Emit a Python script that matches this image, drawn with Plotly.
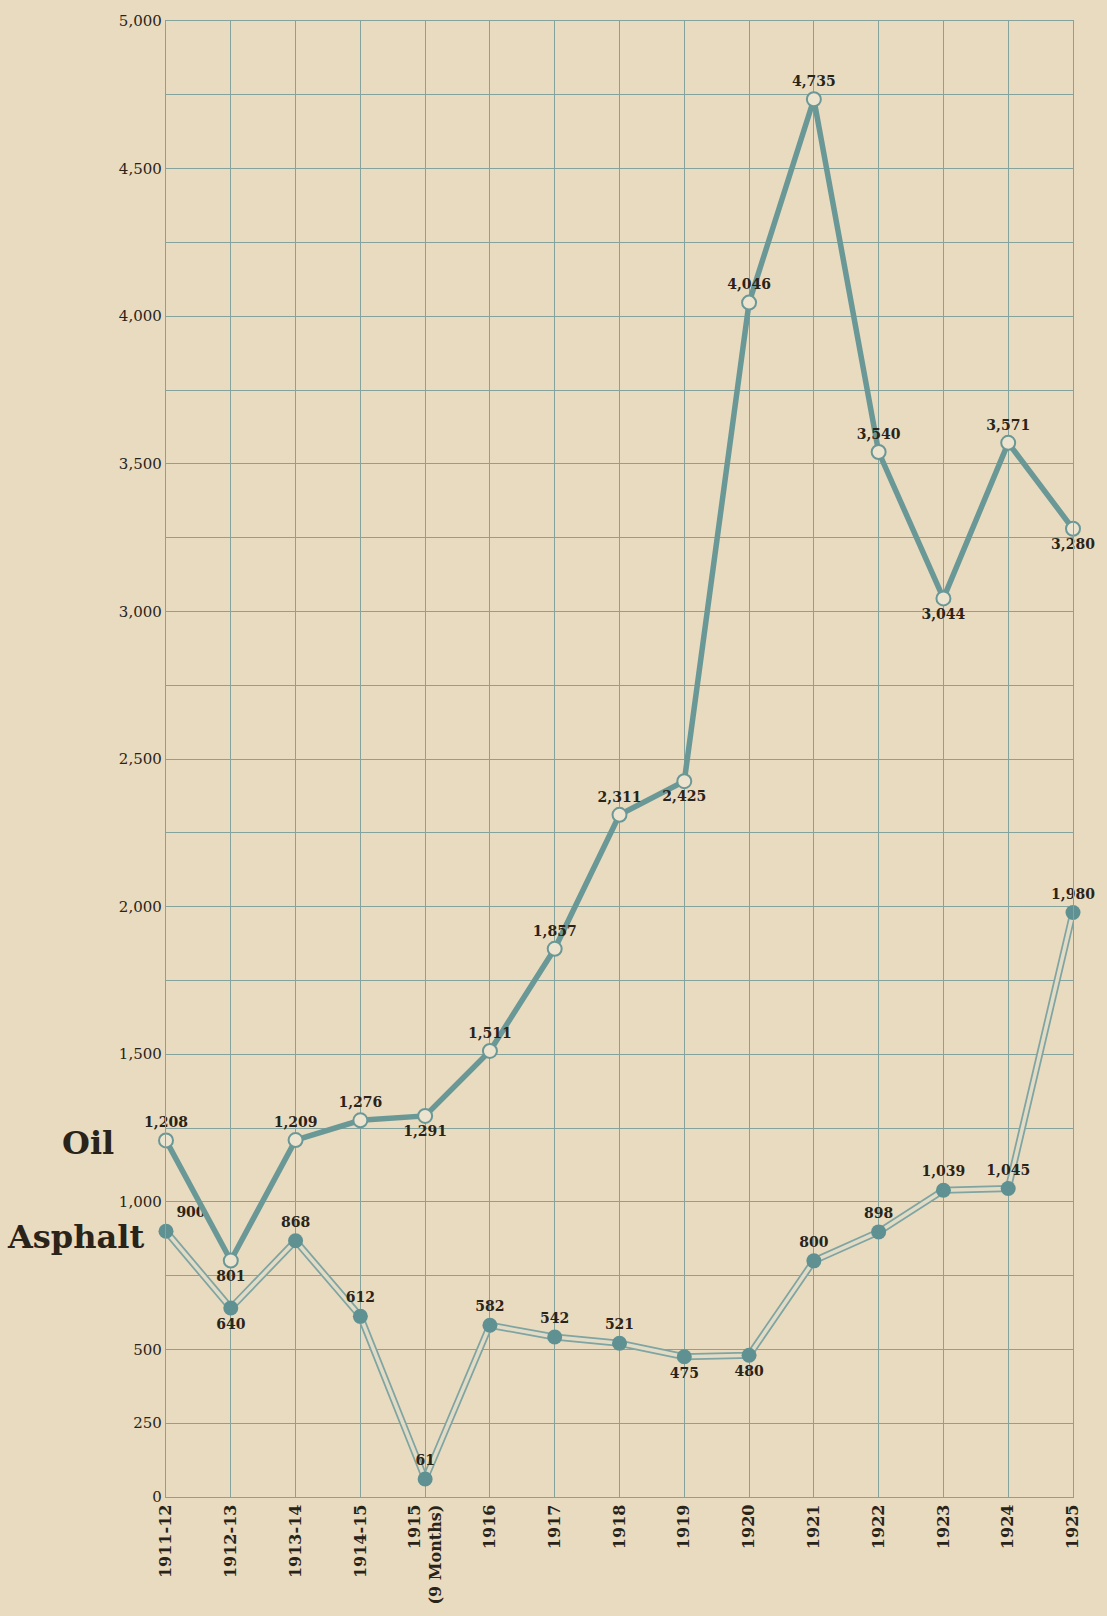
import plotly.graph_objects as go

# ---- data ----
years = ["1911-12", "1912-13", "1913-14", "1914-15", "1915<br>(9 Months)", "1916", "1917",
         "1918", "1919", "1920", "1921", "1922", "1923", "1924", "1925"]
oil_values = [1208, 801, 1209, 1276, 1291, 1511, 1857, 2311, 2425, 4046, 4735, 3540, 3044, 3571, 3280]
asphalt_values = [900, 640, 868, 612, 61, 582, 542, 521, 475, 480, 800, 898, 1039, 1045, 1980]

oil_label_pos = ["top center", "bottom center", "top center", "top center", "bottom center",
                 "top center", "top center", "top center", "bottom center", "top center",
                 "top center", "top center", "bottom center", "top center", "bottom center"]
asphalt_label_pos = ["top right", "bottom center", "top center", "top center", "top center",
                     "top center", "top center", "top center", "bottom center", "bottom center",
                     "top center", "top center", "top center", "top center", "top center"]

y_tick_values = list(range(0, 5001, 250))
y_tick_labels = ["0", "250", "500", "", "1,000", "", "1,500", "", "2,000", "", "2,500", "",
                 "3,000", "", "3,500", "", "4,000", "", "4,500", "", "5,000"]

# ---- style ----
BG = "#e8dbbf"
GRID = "#84a39d"
OIL = "#6a9897"
ASPH_EDGE = "#7fa4a2"
ASPH_INNER = "#e2dcc6"
ASPH_DOT = "#5f9193"
INK = "#2a2319"
FONT = "DejaVu Serif"

fig = go.Figure()

# Asphalt: double line (outer teal, inner light), filled dots
fig.add_trace(go.Scatter(x=years, y=asphalt_values, mode="lines",
                         line=dict(color=ASPH_EDGE, width=7), hoverinfo="skip",
                         cliponaxis=False, showlegend=False))
fig.add_trace(go.Scatter(x=years, y=asphalt_values, mode="lines",
                         line=dict(color=ASPH_INNER, width=3.5), hoverinfo="skip",
                         cliponaxis=False, showlegend=False))
fig.add_trace(go.Scatter(x=years, y=asphalt_values, mode="markers+text", name="Asphalt",
                         marker=dict(size=15, color=ASPH_DOT),
                         text=[f"<b>{v:,}</b>" for v in asphalt_values],
                         textposition=asphalt_label_pos,
                         textfont=dict(family=FONT, size=14, color=INK),
                         cliponaxis=False, showlegend=False))

# Oil: thick teal line, open circles
fig.add_trace(go.Scatter(x=years, y=oil_values, mode="lines+markers+text", name="Oil",
                         line=dict(color=OIL, width=5.5),
                         marker=dict(size=14, color="#ece4cf", line=dict(color=OIL, width=2)),
                         text=[f"<b>{v:,}</b>" for v in oil_values],
                         textposition=oil_label_pos,
                         textfont=dict(family=FONT, size=14, color=INK),
                         cliponaxis=False, showlegend=False))

fig.add_annotation(text="<b>Oil</b>", xref="paper", yref="y", x=-0.055, y=oil_values[0] - 10,
                   xanchor="right", yanchor="middle", showarrow=False,
                   font=dict(family=FONT, size=32, color=INK))
fig.add_annotation(text="<b>Asphalt</b>", xref="paper", yref="y", x=-0.022, y=asphalt_values[0] - 20,
                   xanchor="right", yanchor="middle", showarrow=False,
                   font=dict(family=FONT, size=32, color=INK))

fig.update_layout(
    width=1107, height=1616,
    margin=dict(l=166, r=34, t=17, b=117),
    paper_bgcolor=BG, plot_bgcolor=BG,
    showlegend=False,
    font=dict(family=FONT, color=INK),
    xaxis=dict(type="category", range=[0, 14], tickangle=-90,
               showgrid=True, gridcolor=GRID, gridwidth=1.4,
               showline=True, linecolor=GRID, linewidth=1.4, mirror=True,
               ticks="", tickfont=dict(family=FONT, size=16, color=INK),
               tickprefix="<b>", ticksuffix="</b>", zeroline=False),
    yaxis=dict(range=[0, 5000], tickvals=y_tick_values, ticktext=y_tick_labels,
               showgrid=True, gridcolor=GRID, gridwidth=1.4,
               showline=True, linecolor=GRID, linewidth=1.4, mirror=True,
               ticks="", tickfont=dict(family=FONT, size=15, color=INK),
               tickprefix="<b>", ticksuffix="</b>", zeroline=False),
)

fig.write_html("out.html", config={"displayModeBar": False},
               post_script="document.body.style.margin='0';document.body.style.background='" + BG + "';")
